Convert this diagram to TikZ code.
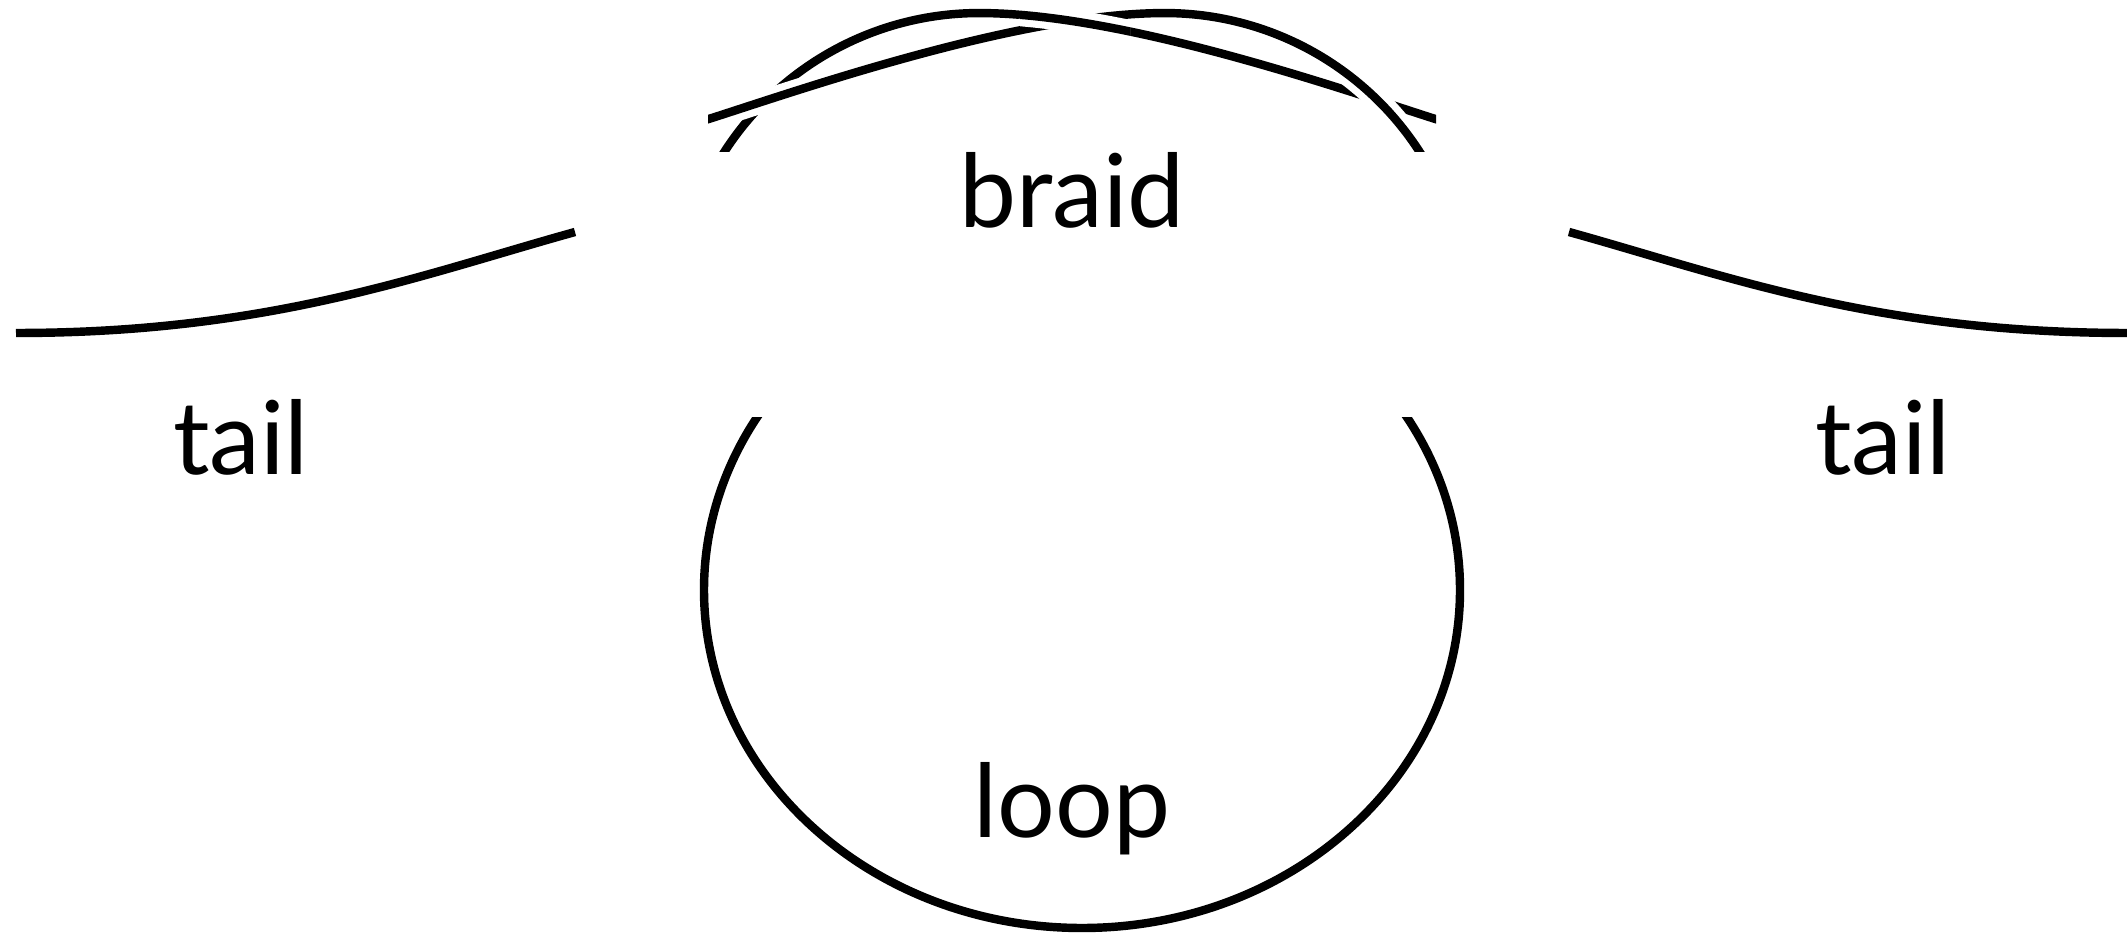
\documentclass[tikz,border=0pt]{standalone}
\usepackage{fontspec}
\setmainfont{Lato}
\usepackage{xcolor}
\usepackage{tikz}
\definecolor{ink}{HTML}{000000}
\tikzset{
  strand/.style={ink, line width=2.4pt},
  gap/.style={white, line width=6.5pt},
  word/.style={anchor=base, text=ink, font=\fontsize{29}{29}\selectfont}
}
\newcommand{\braidstrand}{(7.044,-1.88) arc[start angle=155, end angle=90, radius=3.03]
  .. controls (11.2,-0.13) and (13.3,-0.85) .. (14.29,-1.17) -- (14.7,-1.30)}

\begin{document}
\begin{tikzpicture}
  \useasboundingbox (0,0) rectangle (21.27,-9.33);
  \draw[strand] (0.16,-3.33) .. controls (2.7,-3.33) and (4.2,-2.75) .. (5.75,-2.32);
  \draw[strand] (21.28,-3.33) .. controls (18.74,-3.33) and (17.24,-2.75) .. (15.69,-2.32);
  \begin{scope}
    \clip (7.08,0.5) rectangle (14.36,-1.52);
    \draw[strand] \braidstrand;
    \begin{scope}[xshift=21.44cm, xscale=-1]
      \draw[gap] \braidstrand;
      \draw[strand] \braidstrand;
    \end{scope}
    \begin{scope}
      \clip (10.2,0.5) rectangle (11.3,-0.6);
      \draw[gap] \braidstrand;
      \draw[strand] \braidstrand;
    \end{scope}
  \end{scope}
  \begin{scope}
    \clip (0,-4.18) rectangle (21.27,-9.5);
    \draw[strand] (10.82,-5.9) ellipse [x radius=3.78, y radius=3.38];
  \end{scope}
  \node[word] (braid) at (10.72,-2.28) {braid};
  \node[word] (loop) at (10.72,-8.37) {loop};
  \node[word] (tailL) at (2.41,-4.75) {tail};
  \node[word] (tailR) at (18.83,-4.75) {tail};
\end{tikzpicture}
\end{document}
